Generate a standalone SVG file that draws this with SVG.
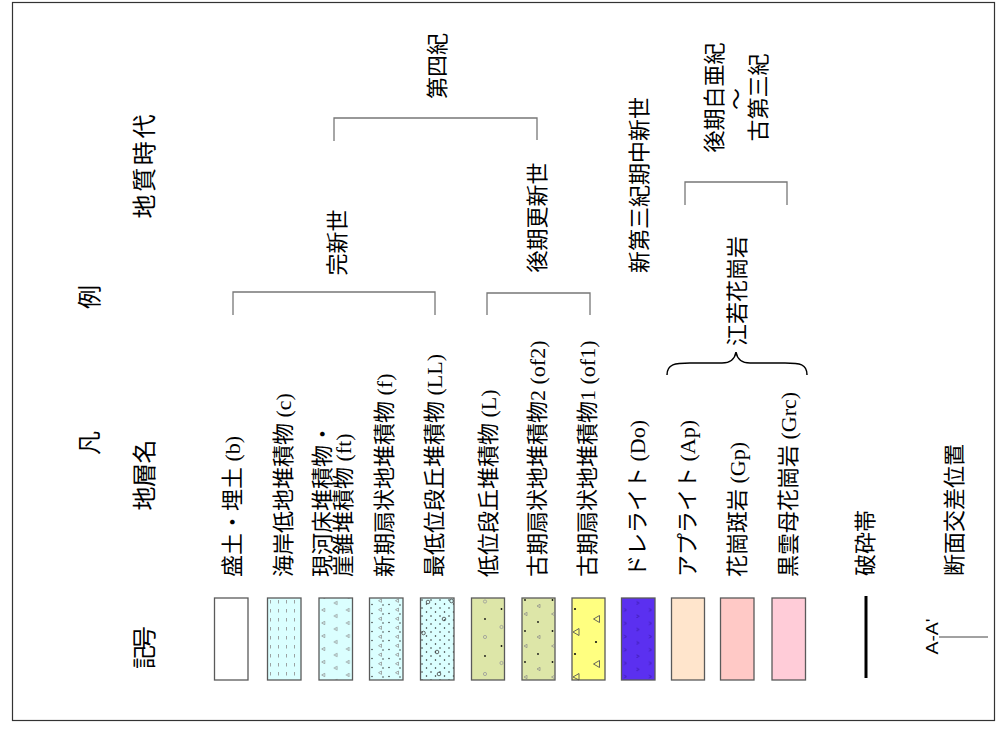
<svg xmlns="http://www.w3.org/2000/svg" width="1005" height="736" viewBox="0 0 1005 736">
<style>
.t{font-family:"Liberation Serif","Noto Sans CJK JP",serif;font-size:22px;fill:#000;dominant-baseline:central}
.h{font-family:"Liberation Serif","Noto Sans CJK JP",serif;font-size:24px;fill:#000;dominant-baseline:central;text-anchor:middle}
.m{text-anchor:middle}
.box{stroke:#5a5a5a;stroke-width:1.3}
.br{fill:none;stroke:#777;stroke-width:1.3}
.tri{fill:none;stroke:#888;stroke-width:0.7}
.dot{fill:#111}
.cir{fill:none;stroke:#999;stroke-width:0.8}
</style>
<defs>
<pattern id="pc" patternUnits="userSpaceOnUse" x="268" y="598" width="8" height="9">
<rect width="8" height="9" fill="#dbffff"/>
<line x1="2.5" y1="2" x2="2.5" y2="5.5" stroke="#8a8a8a" stroke-width="0.8"/>
</pattern>
<pattern id="pft" patternUnits="userSpaceOnUse" x="319" y="598" width="24.5" height="13">
<rect width="24.5" height="13" fill="#dbffff"/>
<path class="tri" d="M5.7,10.3 L2.7,12 L5.7,13.7 Z M5.7,-2.7 L2.7,-1 L5.7,0.7 Z M18,3.3 L15,5 L18,6.7 Z"/>
</pattern>
<pattern id="pf" patternUnits="userSpaceOnUse" x="369" y="598" width="17" height="9">
<rect width="17" height="9" fill="#dbffff"/>
<path class="tri" d="M12.5,1 L9.5,2.7 L12.5,4.4 Z"/>
<circle cx="3" cy="6.5" r="0.7" fill="#222"/>
<circle cx="14" cy="7" r="0.7" fill="#222"/>
</pattern>
<pattern id="pll" patternUnits="userSpaceOnUse" x="420" y="598" width="9" height="8">
<rect width="9" height="8" fill="#dbffff"/>
<circle cx="2" cy="2" r="0.75" fill="#222"/>
<circle cx="6.5" cy="6" r="0.75" fill="#222"/>
</pattern>
<pattern id="pdo" patternUnits="userSpaceOnUse" x="621.5" y="598" width="25" height="13.3">
<rect width="25" height="13.3" fill="#5b30f0"/>
<path d="M2.5,10.5 L5,12 L2.5,13.5 M2.5,-2.8 L5,-1.3 L2.5,0.2 M15,3.5 L17.5,5 L15,6.5" fill="none" stroke="#3a1aa8" stroke-width="0.8"/>
</pattern>
</defs>
<rect x="12.5" y="2.5" width="982" height="718" fill="#fff" stroke="#333" stroke-width="1.2"/>

<g id="headers">
<text class="h" transform="translate(90,443) rotate(-90)">凡</text>
<text class="h" transform="translate(90,297) rotate(-90)">例</text>
<text class="h" transform="translate(145,166.5) rotate(-90)" textLength="104" lengthAdjust="spacing">地質時代</text>
<text class="h" transform="translate(145,475) rotate(-90)" textLength="71" lengthAdjust="spacing">地層名</text>
<text class="h" transform="translate(145,647.5) rotate(-90)" textLength="43" lengthAdjust="spacing">記号</text>
</g>

<g id="connectors">
<path class="br" d="M233,315 V292 H435 V315"/>
<path class="br" d="M487,315 V293 H590 V315"/>
<path class="br" d="M334,141 V118 H537 V140"/>
<path class="br" d="M685,205 V182 H787 V205"/>
<path d="M667,375 C667,364 675,363 690,363 L722,363 C731,363 735,358 736,352 C737,358 741,363 750,363 L785,363 C800,363 807,364 807,375" fill="none" stroke="#000" stroke-width="1.5"/>
</g>

<g id="periods">
<text class="t m" transform="translate(437,66) rotate(-90)">第四紀</text>
<text class="t m" transform="translate(337,242.5) rotate(-90)">完新世</text>
<text class="t m" transform="translate(537,217.5) rotate(-90)">後期更新世</text>
<text class="t m" transform="translate(639,185) rotate(-90)">新第三紀期中新世</text>
<text class="t m" transform="translate(714,97.5) rotate(-90)">後期白亜紀</text>
<text class="t m" transform="translate(736,99) rotate(-90)">～</text>
<text class="t m" transform="translate(758,97.5) rotate(-90)">古第三紀</text>
<text class="t m" transform="translate(737,291) rotate(-90)">江若花崗岩</text>
</g>

<g id="item-b">
<rect class="box" x="214.5" y="598" width="33.5" height="82" fill="#fff"/>
<text class="t" transform="translate(232,577) rotate(-90)">盛土・埋土 (b)</text>
</g>
<g id="item-c">
<rect class="box" x="267.5" y="598" width="33.5" height="82" fill="url(#pc)"/>
<text class="t" transform="translate(283,577) rotate(-90)">海岸低地堆積物 (c)</text>
</g>
<g id="item-ft">
<rect class="box" x="319" y="598" width="33.5" height="82" fill="url(#pft)"/>
<text class="t" transform="translate(322,577) rotate(-90)">現河床堆積物・</text>
<text class="t" transform="translate(343,577) rotate(-90)">崖錐堆積物 (ft)</text>
</g>
<g id="item-f">
<rect class="box" x="369.5" y="598" width="33.5" height="82" fill="url(#pf)"/>
<text class="t" transform="translate(384,577) rotate(-90)">新期扇状地堆積物 (f)</text>
</g>
<g id="item-LL">
<rect class="box" x="420.5" y="598" width="33.5" height="82" fill="url(#pll)"/>
<g fill="none" stroke="#444" stroke-width="0.8">
<circle cx="428" cy="602" r="1.8"/><circle cx="444" cy="619" r="1.8"/><circle cx="423.5" cy="633" r="1.8"/><circle cx="437" cy="652" r="1.8"/><circle cx="439" cy="674" r="1.8"/><circle cx="451.5" cy="601" r="1.8"/>
</g>
<text class="t" transform="translate(434,577) rotate(-90)">最低位段丘堆積物 (LL)</text>
</g>
<g id="item-L">
<rect class="box" x="471.5" y="598" width="33" height="82" fill="#dde6a8"/>
<circle class="cir" cx="485" cy="601.5" r="1.6"/><circle class="cir" cx="501.5" cy="627" r="1.6"/><circle class="cir" cx="485" cy="637" r="1.6"/><circle class="cir" cx="501.5" cy="663" r="1.6"/><circle class="cir" cx="485" cy="674" r="1.6"/>
<circle class="dot" cx="501.5" cy="609" r="0.9"/><circle class="dot" cx="485" cy="619" r="0.9"/><circle class="dot" cx="501.5" cy="646" r="0.9"/><circle class="dot" cx="485" cy="656" r="0.9"/>
<text class="t" transform="translate(488,577) rotate(-90)">低位段丘堆積物 (L)</text>
</g>
<g id="item-of2">
<rect class="box" x="522" y="598" width="33" height="82" fill="#dde6a8"/>
<circle class="dot" cx="525" cy="600" r="0.9"/><circle class="dot" cx="552.5" cy="600" r="0.9"/><circle class="dot" cx="538" cy="622" r="0.9"/><circle class="dot" cx="525" cy="631" r="0.9"/><circle class="dot" cx="552.5" cy="631" r="0.9"/><circle class="dot" cx="538" cy="654" r="0.9"/><circle class="dot" cx="525" cy="662" r="0.9"/><circle class="dot" cx="552.5" cy="662" r="0.9"/>
<path class="tri" d="M540,604.3 L537,606 L540,607.7 Z M527,612.3 L524,614 L527,615.7 Z M554.5,612.3 L551.5,614 L554.5,615.7 Z M540,635.3 L537,637 L540,638.7 Z M527,644.3 L524,646 L527,647.7 Z M554.5,644.3 L551.5,646 L554.5,647.7 Z M540,667.3 L537,669 L540,670.7 Z M527,675.3 L524,677 L527,678.7 Z M554.5,675.3 L551.5,677 L554.5,678.7 Z"/>
<text class="t" transform="translate(537,577) rotate(-90)">古期扇状地堆積物2 (of2)</text>
</g>
<g id="item-of1">
<rect class="box" x="572" y="598" width="33" height="82" fill="#ffff80"/>
<circle class="dot" cx="575" cy="609" r="1.1"/><circle class="dot" cx="596" cy="642" r="1.1"/><circle class="dot" cx="575" cy="654" r="1.1"/>
<path d="M599.5,615.5 L593.5,619 L599.5,622.5 Z M579,628.5 L573,632 L579,635.5 Z M599.5,660.5 L593.5,664 L599.5,667.5 Z M579,673.5 L573,677 L579,680 Z" fill="none" stroke="#555" stroke-width="0.9"/>
<text class="t" transform="translate(587,577) rotate(-90)">古期扇状地堆積物1 (of1)</text>
</g>
<g id="item-Do">
<rect class="box" x="621.5" y="598" width="33.5" height="82" fill="url(#pdo)"/>
<text class="t" transform="translate(637,577) rotate(-90)">ドレライト (Do)</text>
</g>
<g id="item-Ap">
<rect class="box" x="671.5" y="598" width="33" height="82" fill="#ffe5cc"/>
<text class="t" transform="translate(687,577) rotate(-90)">アプライト (Ap)</text>
</g>
<g id="item-Gp">
<rect class="box" x="720.5" y="598" width="33.5" height="82" fill="#ffc9c6"/>
<text class="t" transform="translate(737,577) rotate(-90)">花崗斑岩 (Gp)</text>
</g>
<g id="item-Grc">
<rect class="box" x="772" y="598" width="33.5" height="82" fill="#ffccd8"/>
<text class="t" transform="translate(788,577) rotate(-90)">黒雲母花崗岩 (Grc)</text>
</g>
<g id="item-fault">
<line x1="866" y1="596" x2="866" y2="678" stroke="#000" stroke-width="3"/>
<text class="t" transform="translate(865,576) rotate(-90)">破砕帯</text>
</g>
<g id="item-section">
<line x1="939" y1="637" x2="988" y2="637" stroke="#444" stroke-width="1"/>
<text transform="translate(937.5,636.5) rotate(-90)" font-family="Liberation Sans, sans-serif" font-size="17" text-anchor="middle" textLength="36" lengthAdjust="spacingAndGlyphs">A-A'</text>
<text class="t" transform="translate(954,576) rotate(-90)">断面交差位置</text>
</g>
</svg>
